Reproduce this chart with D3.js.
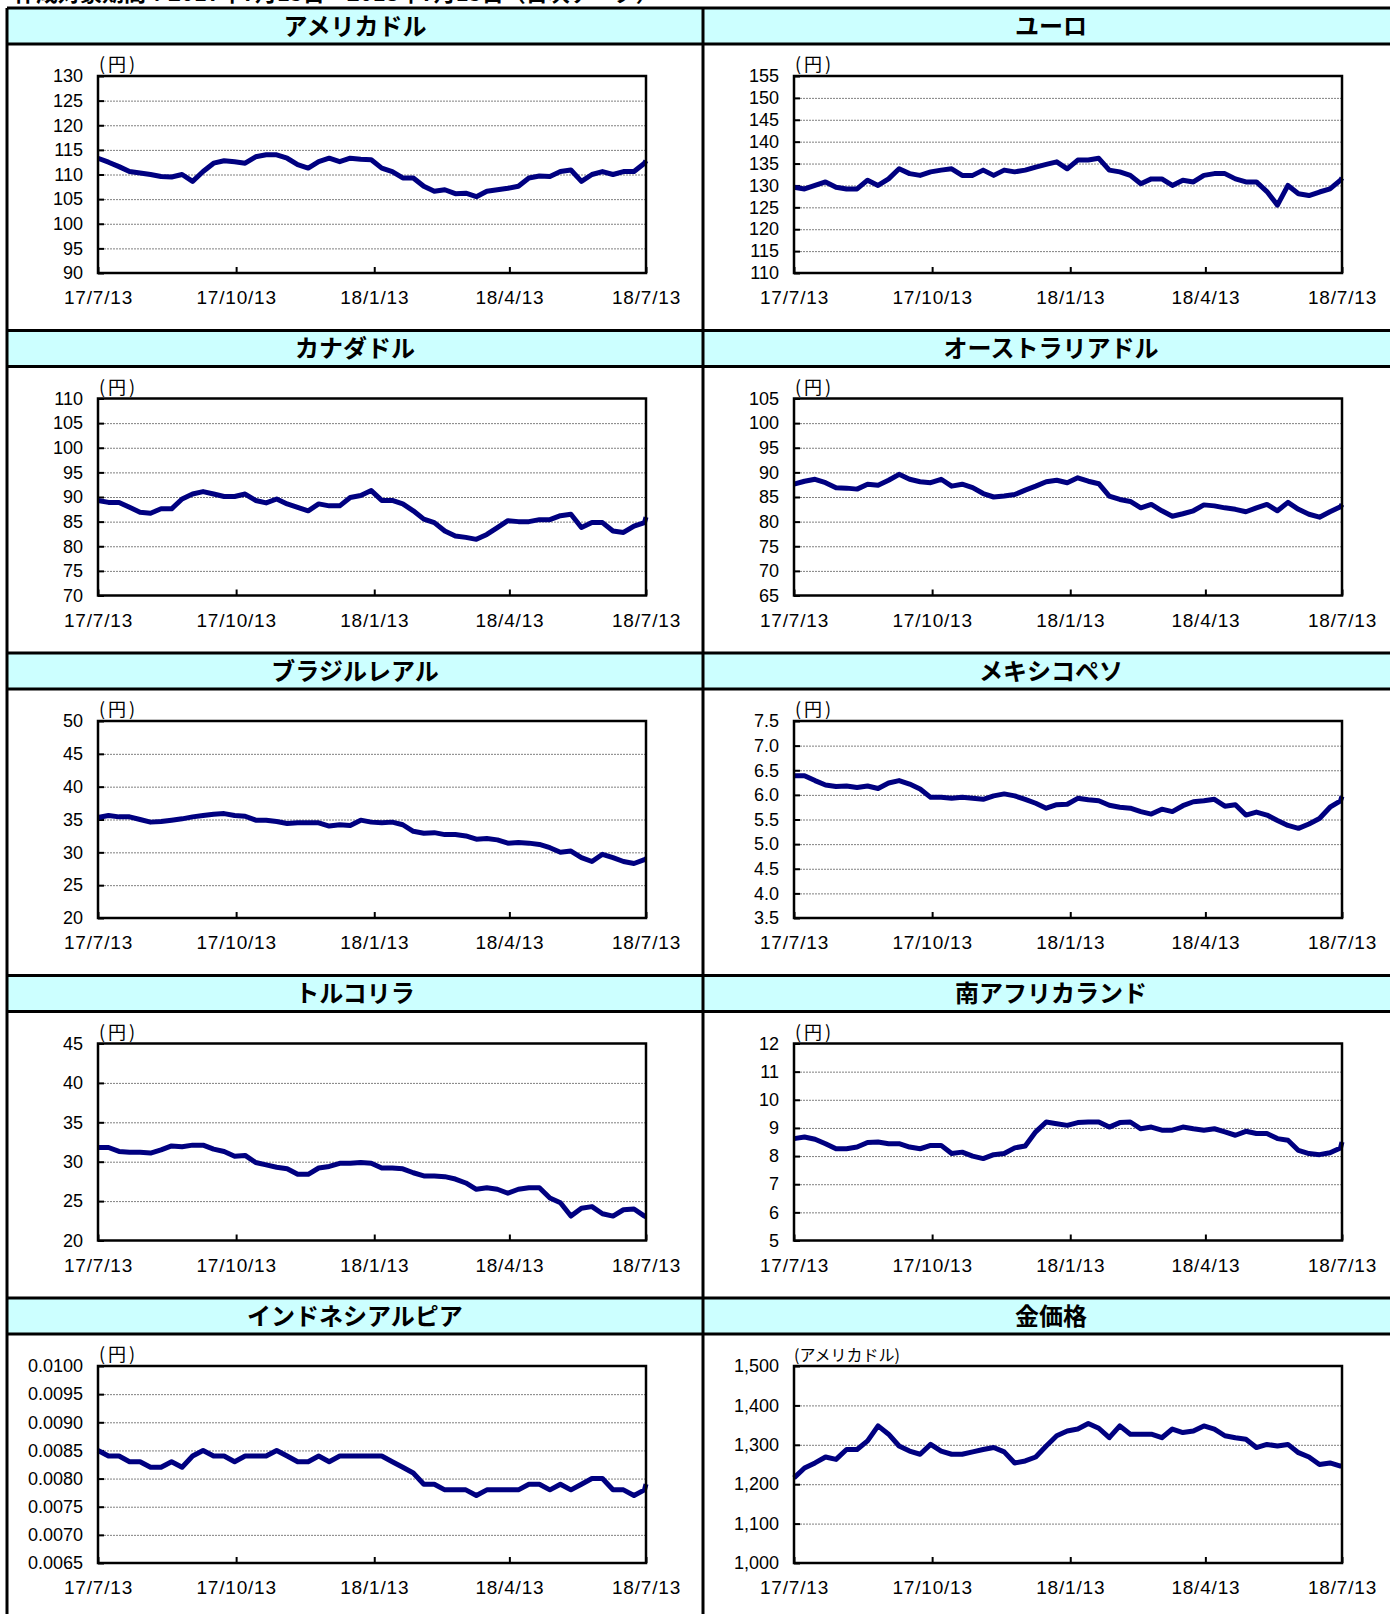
<!DOCTYPE html>
<html>
<head>
<meta charset="utf-8">
<script src="https://cdn.jsdelivr.net/npm/d3@7"></script>
<style>
  body { margin: 0; background: #fff; }
  svg { display: block; }
</style>
</head>
<body>
<svg id="chart" width="1390" height="1614"></svg>
<script>
// panel titles, units, axis ranges
var titles = ["アメリカドル", "ユーロ", "カナダドル", "オーストラリアドル", "ブラジルレアル",
  "メキシコペソ", "トルコリラ", "南アフリカランド", "インドネシアルピア", "金価格"];
var units = ["(円)", "(円)", "(円)", "(円)", "(円)", "(円)", "(円)", "(円)", "(円)", "(アメリカドル)"];
var yMin = [90, 110, 70, 65, 20, 3.5, 20, 5, 0.0065, 1000];
var yMax = [130, 155, 110, 105, 50, 7.5, 45, 12, 0.0100, 1500];
var yStep = [5, 5, 5, 5, 5, 0.5, 5, 1, 0.0005, 100];
var yFmt = ["d", "d", "d", "d", "d", ".1f", "d", "d", ".4f", ",d"];
var tickLabels = ["2017-07-13", "2017-10-13", "2018-01-13", "2018-04-13", "2018-07-13"];

// weekly observations, 17/7/13 .. 18/7/12, plus 18/7/13
var usd = [113.3, 112.5, 111.6, 110.6, 110.3, 110.0, 109.6, 109.5, 110.0, 108.6, 110.6, 112.3, 112.8, 112.6,
  112.3, 113.6, 114.0, 114.0, 113.3, 112.0, 111.3, 112.6, 113.3, 112.6, 113.3, 113.1, 113.0, 111.3, 110.6,
  109.3, 109.3, 107.6, 106.6, 106.9, 106.1, 106.2, 105.5, 106.6, 106.9, 107.2, 107.6, 109.3, 109.7, 109.6,
  110.6, 110.9, 108.6, 110.0, 110.6, 110.0, 110.6, 110.6, 112.3, 112.8];
var eur = [129.6, 129.2, 130.0, 130.8, 129.6, 129.2, 129.2, 131.2, 130.0, 131.5, 133.8, 132.7, 132.3, 133.1,
  133.5, 133.8, 132.3, 132.3, 133.5, 132.3, 133.5, 133.1, 133.5, 134.2, 134.8, 135.4, 133.8, 135.8, 135.8,
  136.2, 133.5, 133.1, 132.3, 130.4, 131.5, 131.5, 130.0, 131.2, 130.8, 132.3, 132.7, 132.7, 131.5, 130.8,
  130.8, 128.6, 125.5, 130.0, 128.1, 127.7, 128.5, 129.2, 131.2, 131.7];
var cad = [89.3, 88.9, 88.9, 87.9, 86.9, 86.7, 87.6, 87.6, 89.6, 90.6, 91.1, 90.6, 90.1, 90.1,
  90.6, 89.3, 88.8, 89.6, 88.6, 87.9, 87.2, 88.6, 88.2, 88.2, 89.9, 90.3, 91.3, 89.3, 89.3,
  88.6, 87.2, 85.5, 84.8, 83.1, 82.1, 81.8, 81.4, 82.4, 83.8, 85.2, 85.0, 85.0, 85.4, 85.4,
  86.2, 86.5, 83.8, 84.8, 84.8, 83.1, 82.8, 84.1, 84.8, 85.9];
var aud = [87.6, 88.2, 88.6, 87.9, 86.9, 86.8, 86.6, 87.6, 87.4, 88.4, 89.6, 88.6, 88.1, 87.9,
  88.6, 87.2, 87.6, 86.9, 85.7, 85.0, 85.2, 85.5, 86.4, 87.2, 88.1, 88.4, 87.9, 88.9, 88.2,
  87.7, 85.2, 84.5, 84.1, 82.8, 83.5, 82.2, 81.1, 81.6, 82.2, 83.4, 83.2, 82.8, 82.5, 82.0,
  82.8, 83.5, 82.2, 83.9, 82.5, 81.5, 80.9, 82.0, 83.0, 83.5];
var brl = [35.3, 35.6, 35.4, 35.4, 35.0, 34.6, 34.7, 34.9, 35.1, 35.4, 35.6, 35.8, 35.9, 35.6,
  35.5, 34.9, 34.9, 34.7, 34.4, 34.5, 34.5, 34.5, 34.0, 34.2, 34.1, 34.9, 34.6, 34.5, 34.6,
  34.2, 33.2, 32.9, 33.0, 32.7, 32.7, 32.5, 32.0, 32.1, 31.9, 31.4, 31.5, 31.4, 31.2, 30.7,
  30.0, 30.2, 29.2, 28.6, 29.7, 29.2, 28.6, 28.3, 28.9, 29.0];
var mxn = [6.39, 6.39, 6.29, 6.20, 6.17, 6.18, 6.15, 6.18, 6.13, 6.24, 6.29, 6.22, 6.12, 5.95,
  5.95, 5.93, 5.95, 5.93, 5.91, 5.98, 6.02, 5.98, 5.91, 5.83, 5.73, 5.80, 5.81, 5.93, 5.90,
  5.88, 5.79, 5.75, 5.73, 5.66, 5.61, 5.71, 5.66, 5.78, 5.86, 5.88, 5.91, 5.77, 5.80, 5.59,
  5.65, 5.59, 5.48, 5.38, 5.32, 5.41, 5.52, 5.75, 5.88, 5.97];
var trl = [31.8, 31.8, 31.3, 31.2, 31.2, 31.1, 31.5, 32.0, 31.9, 32.1, 32.1, 31.6, 31.3, 30.7,
  30.8, 29.9, 29.6, 29.3, 29.1, 28.4, 28.4, 29.2, 29.4, 29.8, 29.8, 29.9, 29.8, 29.2, 29.2,
  29.1, 28.6, 28.2, 28.2, 28.1, 27.8, 27.3, 26.5, 26.7, 26.5, 26.0, 26.5, 26.7, 26.7, 25.4,
  24.8, 23.1, 24.1, 24.3, 23.4, 23.1, 23.9, 24.0, 23.1, 23.0];
var zar = [8.62, 8.68, 8.60, 8.44, 8.26, 8.26, 8.32, 8.48, 8.50, 8.44, 8.44, 8.32, 8.26, 8.38,
  8.38, 8.09, 8.14, 8.00, 7.91, 8.05, 8.09, 8.29, 8.36, 8.86, 9.21, 9.15, 9.09, 9.19, 9.21,
  9.21, 9.03, 9.19, 9.21, 8.97, 9.03, 8.92, 8.92, 9.03, 8.97, 8.92, 8.97, 8.86, 8.74, 8.88,
  8.80, 8.80, 8.62, 8.56, 8.20, 8.09, 8.05, 8.12, 8.29, 8.50];
var idr = [0.0085, 0.0084, 0.0084, 0.0083, 0.0083, 0.0082, 0.0082, 0.0083, 0.0082, 0.0084, 0.0085, 0.0084, 0.0084, 0.0083,
  0.0084, 0.0084, 0.0084, 0.0085, 0.0084, 0.0083, 0.0083, 0.0084, 0.0083, 0.0084, 0.0084, 0.0084, 0.0084, 0.0084, 0.0083,
  0.0082, 0.0081, 0.0079, 0.0079, 0.0078, 0.0078, 0.0078, 0.0077, 0.0078, 0.0078, 0.0078, 0.0078, 0.0079, 0.0079, 0.0078,
  0.0079, 0.0078, 0.0079, 0.0080, 0.0080, 0.0078, 0.0078, 0.0077, 0.0078, 0.0079];
var gold = [1216, 1241, 1254, 1269, 1263, 1288, 1288, 1310, 1348, 1327, 1297, 1284, 1276, 1301,
  1284, 1276, 1276, 1282, 1288, 1293, 1282, 1254, 1259, 1269, 1297, 1323, 1335, 1340, 1354,
  1342, 1318, 1348, 1327, 1327, 1327, 1318, 1340, 1331, 1335, 1348, 1340, 1323, 1318, 1314,
  1293, 1301, 1297, 1301, 1280, 1269, 1250, 1254, 1246, 1246];

var series = [usd, eur, cad, aud, brl, mxn, trl, zar, idr, gold];

var parse = d3.timeParse("%Y-%m-%d");
var start = parse("2017-07-13"), end = parse("2018-07-13");
var dates = d3.timeDay.range(start, end, 7).concat([end]);
var tickDates = tickLabels.map(parse);

var svg = d3.select("#chart");
var colX = [7, 703], colW = 696,
  rowH = 322.5, top0 = 8, headH = 36,
  plotOffX = 91, plotW = 548, plotOffY = 68, plotH = 197;

// caption above the table (cut at the top edge, as in the source)
svg.append("text")
  .attr("x", 14).attr("y", 1)
  .style("font-family", "'Noto Sans CJK JP', sans-serif")
  .style("font-weight", "bold").style("font-size", "22px")
  .text("作成対象期間：2017年7月13日～2018年7月13日（日次データ）");

series.forEach(function(vals, i) {
  var col = i % 2, row = Math.floor(i / 2);
  var cx = colX[col], ry = top0 + row * rowH;

  // header band
  svg.append("rect")
    .attr("x", cx).attr("y", ry).attr("width", colW).attr("height", headH)
    .attr("fill", "#ccffff");
  svg.append("text")
    .attr("x", cx + colW / 2).attr("y", ry + headH / 2)
    .attr("text-anchor", "middle").attr("dy", "0.36em")
    .style("font-family", "'Noto Sans CJK JP', sans-serif")
    .style("font-weight", "bold").style("font-size", "24px")
    .text(titles[i]);

  var px = cx + plotOffX, py = ry + plotOffY;
  var g = svg.append("g").attr("transform", "translate(" + px + "," + py + ")");

  var x = d3.scaleTime().domain([start, end]).range([0, plotW]);
  var y = d3.scaleLinear().domain([yMin[i], yMax[i]]).range([plotH, 0]);
  var n = Math.round((yMax[i] - yMin[i]) / yStep[i]);
  var yTicks = d3.range(n + 1).map(function(k) { return yMin[i] + k * yStep[i]; });

  // gridlines
  g.append("g")
    .call(d3.axisLeft(y).tickValues(yTicks.slice(1, -1)).tickSize(-plotW).tickFormat(""))
    .call(function(s) {
      s.select(".domain").remove();
      s.selectAll("line").attr("stroke", "#808080").attr("stroke-width", 1).attr("stroke-dasharray", "2,1");
    });

  // y axis
  g.append("g")
    .call(d3.axisLeft(y).tickValues(yTicks).tickSize(-6).tickPadding(15).tickFormat(d3.format(yFmt[i])))
    .call(function(s) {
      s.select(".domain").remove();
      s.selectAll("line").attr("stroke", "#000").attr("stroke-width", 2);
      s.selectAll("text").attr("fill", "#000")
        .style("font-family", "'Liberation Sans', Arial, sans-serif").style("font-size", "18px");
    });

  // x axis
  g.append("g").attr("transform", "translate(0," + plotH + ")")
    .call(d3.axisBottom(x).tickValues(tickDates).tickSize(-6).tickPadding(18).tickFormat(d3.timeFormat("%y/%-m/%-d")))
    .call(function(s) {
      s.select(".domain").remove();
      s.selectAll("line").attr("stroke", "#000").attr("stroke-width", 2);
      s.selectAll("text").attr("fill", "#000")
        .style("font-family", "'Liberation Sans', Arial, sans-serif").style("font-size", "19px")
        .style("letter-spacing", "0.8px");
    });

  // data line
  g.append("path")
    .datum(vals)
    .attr("fill", "none")
    .attr("stroke", "#000080")
    .attr("stroke-width", 5)
    .attr("stroke-linejoin", "round")
    .attr("d", d3.line()
      .x(function(d, k) { return x(dates[k]); })
      .y(function(d) { return y(d); }));

  // plot frame
  g.append("rect")
    .attr("width", plotW).attr("height", plotH)
    .attr("fill", "none").attr("stroke", "#000").attr("stroke-width", 2.5);

  // unit label
  var unitWide = units[i].length > 3;
  g.append("text")
    .attr("x", unitWide ? 0 : 1).attr("y", -5)
    .style("font-family", "'Noto Sans CJK JP', sans-serif")
    .style("font-size", unitWide ? "16px" : "18px")
    .style("letter-spacing", unitWide ? "0px" : "3px")
    .text(units[i]);
});

// table borders
for (var r = 0; r < 5; r++) {
  var yy = top0 + r * rowH;
  svg.append("line").attr("x1", colX[0]).attr("x2", 1390).attr("y1", yy).attr("y2", yy)
    .attr("stroke", "#000").attr("stroke-width", 3);
  svg.append("line").attr("x1", colX[0]).attr("x2", 1390).attr("y1", yy + headH).attr("y2", yy + headH)
    .attr("stroke", "#000").attr("stroke-width", 3);
}
colX.forEach(function(cx) {
  svg.append("line").attr("x1", cx).attr("x2", cx).attr("y1", top0).attr("y2", 1614)
    .attr("stroke", "#000").attr("stroke-width", 3);
});
</script>
</body>
</html>
